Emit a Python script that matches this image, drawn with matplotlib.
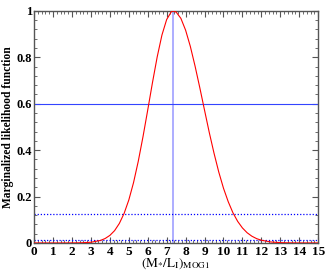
import matplotlib
matplotlib.use("Agg")
import matplotlib.pyplot as plt
from matplotlib.ticker import MultipleLocator, AutoMinorLocator

# likelihood curve
ml = [0.0, 1.0, 1.5, 2.0, 2.5, 3.0, 3.5, 3.75, 4.0, 4.25, 4.5, 4.75, 5.0, 5.25, 5.5,
      5.75, 6.0, 6.25, 6.5, 6.75, 7.0, 7.25, 7.35, 7.5, 7.75, 8.0, 8.25, 8.5, 8.75,
      9.0, 9.25, 9.5, 9.75, 10.0, 10.25, 10.5, 10.75, 11.0, 11.25, 11.5, 11.75,
      12.0, 12.5, 13.0, 13.5, 14.0, 15.0]
like = [0.0, 0.0, 0.0, 0.0002, 0.0008, 0.0031, 0.0108, 0.0192, 0.0326, 0.0532, 0.084,
        0.127, 0.185, 0.260, 0.352, 0.458, 0.573, 0.691, 0.802, 0.896, 0.963, 0.997,
        1.0, 0.995, 0.968, 0.917, 0.847, 0.762, 0.669, 0.572, 0.476, 0.387, 0.306,
        0.236, 0.178, 0.130, 0.093, 0.0648, 0.044, 0.0291, 0.0187, 0.0118, 0.0043,
        0.0014, 0.0004, 0.0001, 0.0]

best = 7.35
levels = [0.6, 0.125, 0.011]   # solid, dotted, dotted

plt.rcParams['font.family'] = ['Liberation Serif', 'DejaVu Serif']
plt.rcParams['mathtext.fontset'] = 'stix'

fig = plt.figure(figsize=(3.28, 2.73), dpi=100)
ax = fig.add_axes([0.104, 0.11, 0.866, 0.85])

ax.plot(ml, like, color='red', lw=0.8, zorder=3)
ax.axvline(best, color='#8888ff', lw=1.2, alpha=0.8)
ax.axhline(levels[0], color='#3344ff', lw=0.8)
ax.axhline(levels[1], color='blue', lw=0.9, ls=(0, (1, 1.5)))
ax.axhline(levels[2], color='blue', lw=0.9, ls=(0, (1, 1.5)))

ax.set_xlim(0, 15)
ax.set_ylim(0, 1)
ax.xaxis.set_major_locator(MultipleLocator(1))
ax.xaxis.set_minor_locator(AutoMinorLocator(5))
ax.yaxis.set_major_locator(MultipleLocator(0.2))
ax.yaxis.set_minor_locator(AutoMinorLocator(5))
ax.set_yticks([0, 0.2, 0.4, 0.6, 0.8, 1])
ax.set_yticklabels(['0', '0.2', '0.4', '0.6', '0.8', '1'])
ax.tick_params(which='both', direction='in', top=True, right=True, color='#555555')
ax.tick_params(which='major', length=4, width=0.8, labelsize=9.5, pad=2)
ax.tick_params(axis='y', which='major', labelsize=9, pad=1.5)
ax.tick_params(which='minor', length=2, width=0.6)
for lab in ax.get_xticklabels() + ax.get_yticklabels():
    lab.set_fontweight('bold')
for s in ax.spines.values():
    s.set_color('#555555')
    s.set_linewidth(1.0)

ax.set_ylabel('Marginalized likelihood function', fontsize=8.3, fontweight='bold')
ax.yaxis.set_label_coords(-0.072, 0.5)
ax.set_xlabel(r'$\mathrm{(M_{*}/L_{I})_{MOG1}}$', fontsize=9.5, labelpad=-1)

fig.savefig('out.png', dpi=100)
